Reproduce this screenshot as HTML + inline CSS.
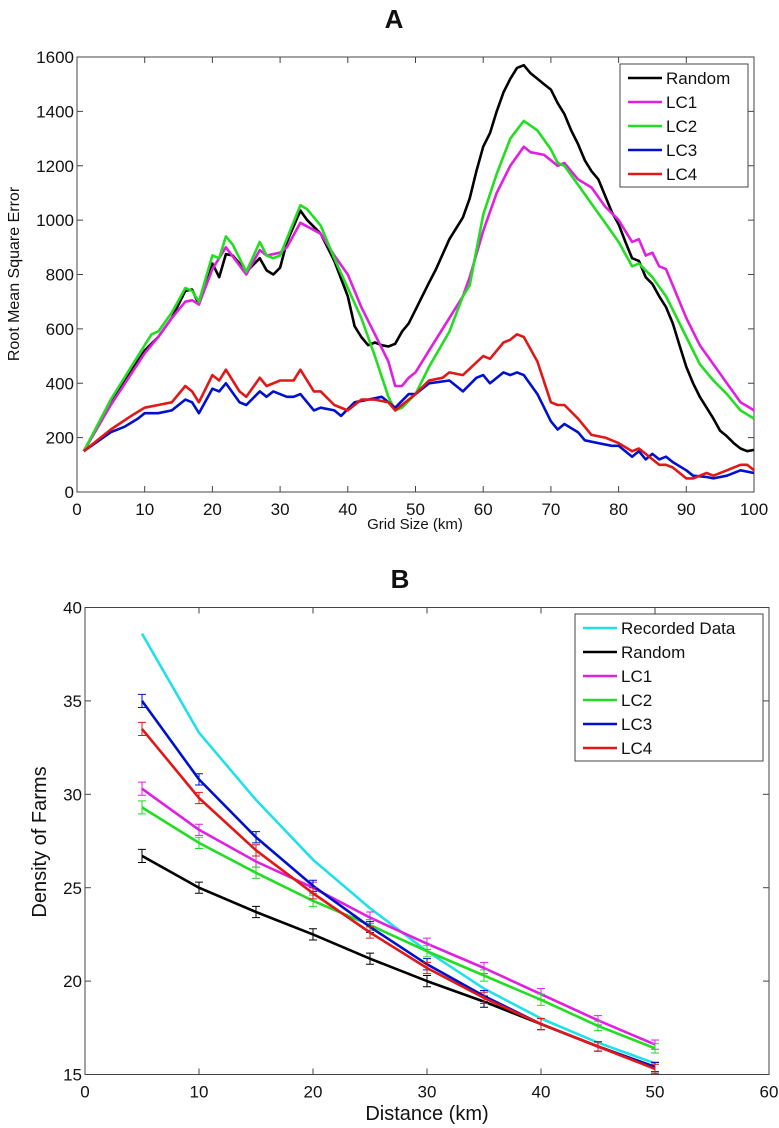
<!DOCTYPE html>
<html><head><meta charset="utf-8"><style>
body{margin:0;background:#fff;}
svg{display:block;font-family:"Liberation Sans",sans-serif;}
</style></head><body>
<svg id="c" width="779" height="1128"></svg>
<script>
// Panel A data
const aX=[1,5,10,12,14,16,17,18,20,21,22,23,24,25,27,28,29,30,31,33,34,36,38,40,41,42,43,44,45,46,47,48,49,50,52,53,55,57,58,59,60,61,62,63,64,65,66,67,68,69,70,71,72,73,74,75,76,77,78,79,80,81,82,83,84,85,86,87,88,89,90,91,92,93,94,95,96,97,98,99,100];
const aRandom=[150,330,520,570,640,740,745,690,840,790,875,870,840,810,860,815,800,825,920,1035,1000,950,850,720,610,570,540,550,540,535,545,590,620,670,770,818,930,1010,1080,1180,1270,1320,1400,1470,1520,1560,1570,1540,1520,1500,1480,1430,1390,1330,1280,1220,1180,1150,1090,1030,985,920,860,850,790,765,720,680,620,540,460,400,350,310,270,225,205,180,160,150,155];
const lc1X=[1,5,10,12,14,16,17,18,20,22,25,27,28,30,31,33,36,38,40,42,44,46,47,48,49,50,52,55,57,58,60,62,64,66,67,69,71,72,74,76,78,80,82,83,84,85,86,87,88,90,92,94,96,98,100];
const aLC1=[150,320,510,570,640,700,705,690,820,900,800,890,870,880,900,990,950,870,800,680,580,480,390,390,420,440,520,640,720,790,960,1100,1200,1270,1250,1240,1200,1210,1150,1120,1050,1000,920,930,870,880,830,820,760,640,540,470,400,330,300];
const lc2X=[1,5,10,11,12,14,16,17,18,20,21,22,23,25,27,28,29,30,33,34,36,38,40,42,44,46,47,48,50,52,55,57,58,60,62,64,66,68,70,71,72,74,76,78,80,82,83,85,87,88,90,92,94,96,98,100];
const aLC2=[150,340,540,580,590,660,750,740,700,870,860,940,910,810,920,870,860,870,1055,1040,980,860,750,640,500,350,300,310,360,460,590,720,760,1020,1170,1300,1365,1330,1260,1210,1200,1130,1060,990,920,830,840,790,720,670,570,470,410,360,300,270];
const lc3X=[1,5,7,9,10,12,14,16,17,18,20,21,22,24,25,27,28,29,31,32,33,35,36,38,39,41,43,45,47,49,50,52,55,57,59,60,61,63,64,65,66,68,70,71,72,74,75,77,79,80,82,83,84,85,86,87,88,90,91,93,94,96,98,100];
const aLC3=[150,220,240,270,290,290,300,340,330,290,380,370,400,330,320,370,350,370,350,350,360,300,310,300,280,330,340,350,310,360,360,400,410,370,420,430,400,440,430,440,430,360,260,230,250,220,190,180,170,170,130,150,120,140,120,130,110,80,60,55,50,60,80,70];
const lc4X=[1,5,8,10,12,14,16,17,18,20,21,22,24,25,27,28,30,32,33,35,36,38,40,41,42,44,46,47,49,50,52,54,55,57,60,61,63,64,65,66,68,70,71,72,74,76,78,80,82,83,84,86,87,88,90,91,93,94,96,98,99,100];
const aLC4=[150,230,280,310,320,330,390,370,330,430,410,450,370,350,420,390,410,410,450,370,370,320,300,320,340,340,330,300,340,360,410,420,440,430,500,490,550,560,580,570,480,330,320,320,270,210,200,180,150,160,140,100,100,90,50,50,70,60,80,100,100,80];
const aXTicks=[0,10,20,30,40,50,60,70,80,90,100];
const aYTicks=[0,200,400,600,800,1000,1200,1400,1600];
// Panel B data
const bX=[5,10,15,20,25,30,35,40,45,50];
const bRecorded=[38.6,33.3,29.7,26.5,23.9,21.6,19.6,18.0,16.7,15.6];
const bRandom=[26.7,25.0,23.7,22.5,21.2,20.0,18.9,17.7,16.5,15.4];
const bLC1=[30.3,28.1,26.4,25.0,23.4,22.0,20.7,19.3,17.9,16.6];
const bLC2=[29.3,27.4,25.8,24.3,23.0,21.6,20.3,19.0,17.6,16.4];
const bLC3=[35.0,30.8,27.7,25.1,22.9,20.9,19.2,17.7,16.5,15.4];
const bLC4=[33.5,29.8,27.0,24.7,22.6,20.7,19.1,17.7,16.5,15.3];
const bErr=[0.35,0.3,0.3,0.3,0.3,0.3,0.3,0.3,0.25,0.25];
const bXTicks=[0,10,20,30,40,50,60];
const bYTicks=[15,20,25,30,35,40];

const NS="http://www.w3.org/2000/svg";
const svg=document.getElementById('c');
function mk(t,a,p){const e=document.createElementNS(NS,t);for(const k in a)e.setAttribute(k,a[k]);(p||svg).appendChild(e);return e;}
function txt(x,y,s,size,anchor,extra){const e=mk('text',Object.assign({x:x,y:y,'font-size':size,'text-anchor':anchor||'middle',fill:'#111'},extra||{}));e.textContent=s;return e;}

function panel(o){
  const g=mk('g',{});
  
  
  const sx=v=>o.L+(v-o.x0)/(o.x1-o.x0)*(o.R-o.L);
  const sy=v=>o.B-(v-o.y0)/(o.y1-o.y0)*(o.B-o.T);
  const ax=mk('rect',{x:o.L,y:o.T,width:o.R-o.L,height:o.B-o.T,fill:'none',stroke:'#444','stroke-width':1},g);
  
  
  o.xt.forEach(v=>{const x=sx(v);
    mk('line',{x1:x,y1:o.B,x2:x,y2:o.B-6,stroke:'#444'},g);mk('line',{x1:x,y1:o.T,x2:x,y2:o.T+6,stroke:'#444'},g);
    const t=txt(x,o.B+o.tfs+6,String(v),o.tfs,'middle');
    
    });
  o.yt.forEach(v=>{const y=sy(v);
    mk('line',{x1:o.L,y1:y,x2:o.L+6,y2:y,stroke:'#444'},g);mk('line',{x1:o.R,y1:y,x2:o.R-6,y2:y,stroke:'#444'},g);
    const t=txt(o.L-3,y+o.tfs*0.36,String(v),o.tfs,'end');
    
    });
  o.series.forEach(s=>{
    const xs=s.x;
    const d=s.y.map((v,i)=>(i?'L':'M')+sx(xs[i]).toFixed(1)+','+sy(v).toFixed(1)).join(' ');
    const p=mk('path',{d:d,fill:'none',stroke:s.c,'stroke-width':2.6,'stroke-linejoin':'round'},g);
    
    
    if(s.err){s.y.forEach((v,i)=>{const x=sx(xs[i]),y1=sy(v-s.err[i]),y2=sy(v+s.err[i]);
      const eb=mk('path',{d:`M${x},${y1}L${x},${y2}M${x-4},${y1}L${x+4},${y1}M${x-4},${y2}L${x+4},${y2}`,stroke:s.c,'stroke-width':1,fill:'none'},g);
      
      });}
  });
  const lg=mk('g',{},g);
  
  
  mk('rect',{x:o.lx,y:o.ly,width:o.lw,height:o.lh,fill:'#fff',stroke:'#444'},lg);
  o.series.forEach((s,i)=>{const y=o.ly+o.lpad+i*o.lstep;
    mk('line',{x1:o.lx+8,y1:y,x2:o.lx+8+o.llen,y2:y,stroke:s.c,'stroke-width':2.6},lg);
    const t=txt(o.lx+12+o.llen,y+o.lfs*0.36,s.n,o.lfs,'start',{});
    lg.appendChild(t);
    
    });
  return g;
}

panel({name:'panel-a',L:77,R:754,T:57,B:492,x0:0,x1:100,y0:0,y1:1600,xt:aXTicks,yt:aYTicks,tfs:17,
  series:[{n:'Random',c:'#000',x:aX,y:aRandom},{n:'LC1',c:'#e020e0',x:lc1X,y:aLC1},{n:'LC2',c:'#22dd22',x:lc2X,y:aLC2},{n:'LC3',c:'#0010cc',x:lc3X,y:aLC3},{n:'LC4',c:'#e01818',x:lc4X,y:aLC4}],
  lx:620,ly:64,lw:128,lh:123,lpad:14,lstep:24,llen:34,lfs:17});
panel({name:'panel-b',L:85,R:769,T:607.5,B:1074.5,x0:0,x1:60,y0:15,y1:40,xt:bXTicks,yt:bYTicks,tfs:17,
  series:[{n:'Recorded Data',c:'#22e0e8',x:bX,y:bRecorded},{n:'Random',c:'#000',x:bX,y:bRandom,err:bErr},{n:'LC1',c:'#e020e0',x:bX,y:bLC1,err:bErr},{n:'LC2',c:'#22dd22',x:bX,y:bLC2,err:bErr},{n:'LC3',c:'#0010cc',x:bX,y:bLC3,err:bErr},{n:'LC4',c:'#e01818',x:bX,y:bLC4,err:bErr}],
  lx:575,ly:614,lw:188,lh:147,lpad:14,lstep:24,llen:34,lfs:17});

let t;
t=txt(394,28,'A',26,'middle',{'font-weight':'bold'});
t=txt(415,529,'Grid Size (km)',15,'middle');
t=txt(0,0,'Root Mean Square Error',16,'middle',{transform:'translate(19,274) rotate(-90)'});
t=txt(400,588,'B',26,'middle',{'font-weight':'bold'});
t=txt(427,1120,'Distance (km)',20,'middle');
t=txt(0,0,'Density of Farms',20,'middle',{transform:'translate(46,842) rotate(-90)'});
</script>
</body></html>
